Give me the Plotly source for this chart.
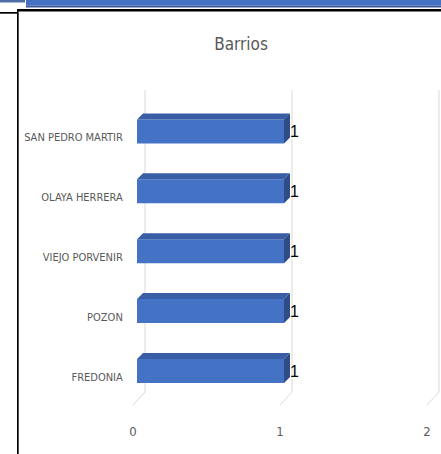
import plotly.graph_objects as go

# ---- data ----
categories = ["FREDONIA", "POZON", "VIEJO PORVENIR", "OLAYA HERRERA", "SAN PEDRO MARTIR"]
values = [1, 1, 1, 1, 1]
x_ticks = [0, 1, 2]
title_text = "Barrios"

# ---- geometry / style ----
W, H = 441, 454
L, R, T, B = 130, 0, 80, 39
PW, PH = W - L - R, H - T - B
XPX = 147.0   # px per x unit
YPX = 59.9    # px per category
x0 = (L - 137) / XPX
x1 = x0 + PW / XPX
y0 = (371 - (H - B)) / YPX
y1 = y0 + PH / YPX

BAR_W = 0.4
DX = 6 / XPX
DY = 6 / YPX
GRID_DX = 8 / XPX
FRONT_DX = -4 / XPX
GRID_TOP = (371 - 90) / YPX
GRID_BOT = (371 - 392) / YPX
GRID_FRONT = (371 - 405) / YPX

FRONT = "#4472C4"
TOP = "#3A5EA5"
SIDE = "#2D4C88"
GREY = "#595959"
FONT = "Liberation Sans Narrow, DejaVu Sans Condensed, Roboto, sans-serif"

ypos = list(range(len(categories)))

fig = go.Figure()

# front faces
fig.add_trace(go.Bar(
    x=values, y=ypos, base=0, orientation="h", width=BAR_W,
    marker=dict(color=FRONT, line=dict(width=0)), hoverinfo="skip",
))

# top faces & side faces
tx, ty, sx, sy = [], [], [], []
for yc, v in zip(ypos, values):
    h = BAR_W / 2
    tx += [0, v, v + DX, DX, 0, None]
    ty += [yc + h, yc + h, yc + h + DY, yc + h + DY, yc + h, None]
    sx += [v, v, v + DX, v + DX, v, None]
    sy += [yc - h, yc + h, yc + h + DY, yc - h + DY, yc - h, None]
fig.add_trace(go.Scatter(x=tx, y=ty, mode="lines", fill="toself", fillcolor=TOP,
                         line=dict(width=0, color=TOP), hoverinfo="skip"))
fig.add_trace(go.Scatter(x=sx, y=sy, mode="lines", fill="toself", fillcolor=SIDE,
                         line=dict(width=0, color=SIDE), hoverinfo="skip"))

# value labels
fig.add_trace(go.Scatter(
    x=[v + DX for v in values], y=[p - 0.03 for p in ypos], mode="text",
    text=[str(v) for v in values], textposition="middle right",
    textfont=dict(family="Liberation Sans, Arial, sans-serif", size=16, color="#000000"),
    hoverinfo="skip",
))

# gridlines (back wall + floor diagonal), below traces
shapes = []
for t in x_ticks:
    shapes.append(dict(type="line", xref="x", yref="y", layer="below",
                       x0=t + GRID_DX, x1=t + GRID_DX, y0=GRID_TOP, y1=GRID_BOT,
                       line=dict(color="#D9D9D9", width=1)))
    shapes.append(dict(type="line", xref="x", yref="y", layer="below",
                       x0=t + GRID_DX, x1=t + FRONT_DX, y0=GRID_BOT, y1=GRID_FRONT,
                       line=dict(color="#D9D9D9", width=1)))

# frame decoration (pixel -> paper)
def px(xp):
    return (xp - L) / PW
def py(yp):
    return ((H - B) - yp) / PH

def prect(xa, ya, xb, yb, color):
    return dict(type="rect", xref="paper", yref="paper", x0=px(xa), x1=px(xb),
                y0=py(ya), y1=py(yb), fillcolor=color, line=dict(width=0), layer="above")

shapes += [
    prect(26, 0, 441, 5.5, "#4472C4"),
    prect(26, 5.5, 441, 7.5, "#3A5A9A"),
    prect(0, 0, 25, 2.5, "#4F6FA6"),
    prect(17, 9, 441, 11.5, "#000000"),
    prect(0, 12, 17.5, 13.7, "#000000"),
    prect(17, 9, 18.7, 454, "#000000"),
]

fig.update_layout(
    width=W, height=H,
    margin=dict(l=L, r=R, t=T, b=B),
    paper_bgcolor="white", plot_bgcolor="white",
    showlegend=False,
    title=dict(text=title_text, x=241 / W, xref="container", xanchor="center",
               y=1 - 44 / H, yref="container", yanchor="middle",
               font=dict(family=FONT, size=17, color=GREY)),
    xaxis=dict(range=[x0, x1], showgrid=False, zeroline=False, showline=False,
               tickvals=[t + FRONT_DX for t in x_ticks], ticktext=[str(t) for t in x_ticks],
               ticks="outside", ticklen=4, tickcolor="rgba(0,0,0,0)",
               tickfont=dict(family=FONT, size=13, color=GREY), fixedrange=True),
    yaxis=dict(range=[y0, y1], showgrid=False, zeroline=False, showline=False,
               tickvals=[p - 0.1 for p in ypos], ticktext=categories,
               ticks="outside", ticklen=4, tickcolor="rgba(0,0,0,0)",
               tickfont=dict(family=FONT, size=11, color=GREY), fixedrange=True),
    shapes=shapes,
)

fig.write_html("out.html", config={"displayModeBar": False},
               post_script="document.body.style.margin='0';document.body.style.overflow='hidden';")
